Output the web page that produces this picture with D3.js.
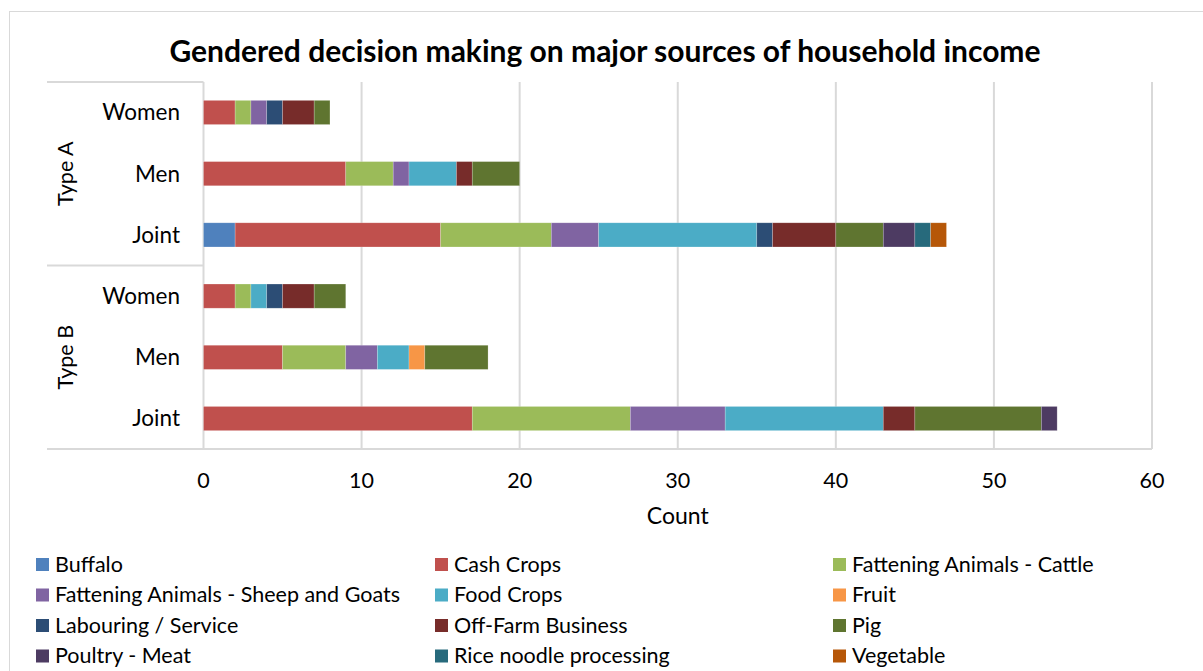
<!DOCTYPE html>
<html>
<head>
<meta charset="utf-8">
<script src="https://cdn.jsdelivr.net/npm/d3@7"></script>
<style>
  body { margin: 0; background: #fff; }
  svg { display: block; font-family: Lato, 'Open Sans', sans-serif; }
</style>
</head>
<body>
<div id="chart"></div>
<script>
// categories (top to bottom)
const groups = ['Type A', 'Type B'];
const roles = ['Women', 'Men', 'Joint'];

const sources = ['Buffalo', 'Cash Crops', 'Fattening Animals - Cattle',
  'Fattening Animals - Sheep and Goats', 'Food Crops', 'Fruit',
  'Labouring / Service', 'Off-Farm Business', 'Pig',
  'Poultry - Meat', 'Rice noodle processing', 'Vegetable'];

const colors = ['#4F81BD', '#C0504D', '#9BBB59', '#8064A2', '#4BACC6', '#F79646',
  '#2C4D75', '#772C2A', '#5F7530', '#4D3B62', '#276A7C', '#B65708'];

// counts per source, in row order: A-Women, A-Men, A-Joint, B-Women, B-Men, B-Joint
const buffalo =      [0, 0, 2, 0, 0, 0];
const cashCrops =    [2, 9, 13, 2, 5, 17];
const cattle =       [1, 3, 7, 1, 4, 10];
const sheepGoats =   [1, 1, 3, 0, 2, 6];
const foodCrops =    [0, 3, 10, 1, 2, 10];
const fruit =        [0, 0, 0, 0, 1, 0];
const labouring =    [1, 0, 1, 1, 0, 0];
const offFarm =      [2, 1, 4, 2, 0, 2];
const pig =          [1, 3, 3, 2, 4, 8];
const poultry =      [0, 0, 2, 0, 0, 1];
const riceNoodle =   [0, 0, 1, 0, 0, 0];
const vegetable =    [0, 0, 1, 0, 0, 0];

const seriesValues = [buffalo, cashCrops, cattle, sheepGoats, foodCrops, fruit,
  labouring, offFarm, pig, poultry, riceNoodle, vegetable];

const xTicks = [0, 10, 20, 30, 40, 50, 60];

const width = 1203, height = 671;
const plot = {left: 203.5, right: 1152, top: 82, bottom: 449};

const rows = [];
groups.forEach((g) => roles.forEach((r) => rows.push({group: g, role: r, key: g + '|' + r})));

const table = rows.map((row, i) => {
  const o = {key: row.key};
  sources.forEach((s, j) => o[s] = seriesValues[j][i]);
  return o;
});

const stacked = d3.stack().keys(sources)(table);

const x = d3.scaleLinear().domain([0, 60]).range([plot.left, plot.right]);
const y = d3.scaleBand().domain(rows.map((r) => r.key))
  .range([plot.top, plot.bottom]).paddingInner(0.605).paddingOuter(0.3);
const color = d3.scaleOrdinal().domain(sources).range(colors);

const svg = d3.select('#chart').append('svg')
  .attr('width', width).attr('height', height);

// chart border
svg.append('rect')
  .attr('x', 9.5).attr('y', 11.5)
  .attr('width', 1220).attr('height', 700)
  .attr('fill', '#fff').attr('stroke', '#d9d9d9');

// title
svg.append('text')
  .attr('x', 605).attr('y', 62)
  .attr('text-anchor', 'middle')
  .attr('font-size', 30).attr('font-weight', 'bold')
  .attr('fill', '#000')
  .text('Gendered decision making on major sources of household income');

// gridlines
svg.append('g')
  .selectAll('line')
  .data(xTicks)
  .join('line')
  .attr('x1', (d) => x(d)).attr('x2', (d) => x(d))
  .attr('y1', plot.top).attr('y2', plot.bottom)
  .attr('stroke', '#d9d9d9').attr('stroke-width', 2);

// category axis lines
const axisG = svg.append('g').attr('stroke', '#d9d9d9').attr('stroke-width', 2);
axisG.append('line').attr('x1', 47).attr('x2', plot.right).attr('y1', plot.bottom).attr('y2', plot.bottom);
const groupBounds = [plot.top, (plot.top + plot.bottom) / 2, plot.bottom];
axisG.selectAll('line.sep')
  .data(groupBounds.slice(0, 2))
  .join('line').attr('class', 'sep')
  .attr('x1', 47).attr('x2', plot.left).attr('y1', (d) => d).attr('y2', (d) => d);

// bars
svg.append('g')
  .selectAll('g')
  .data(stacked)
  .join('g')
  .attr('fill', (d) => color(d.key))
  .selectAll('rect')
  .data((d) => d.filter((v) => v[1] > v[0]))
  .join('rect')
  .attr('x', (d) => x(d[0]))
  .attr('width', (d) => x(d[1]) - x(d[0]))
  .attr('y', (d) => y(d.data.key))
  .attr('height', y.bandwidth())
  .attr('stroke', '#fff').attr('stroke-opacity', 0.35).attr('stroke-width', 0.6);

// x tick labels
svg.append('g')
  .selectAll('text')
  .data(xTicks)
  .join('text')
  .attr('x', (d) => x(d)).attr('y', 488)
  .attr('text-anchor', 'middle')
  .attr('font-size', 21.5).attr('fill', '#000')
  .text((d) => d);

svg.append('text')
  .attr('x', (plot.left + plot.right) / 2).attr('y', 524)
  .attr('text-anchor', 'middle')
  .attr('font-size', 23).attr('fill', '#000')
  .text('Count');

// row labels
svg.append('g')
  .selectAll('text')
  .data(rows)
  .join('text')
  .attr('x', 180).attr('y', (d) => y(d.key) + y.bandwidth() / 2)
  .attr('dy', '0.35em')
  .attr('text-anchor', 'end')
  .attr('font-size', 22.5).attr('fill', '#000')
  .text((d) => d.role);

// group labels
svg.append('g')
  .selectAll('text')
  .data(groups)
  .join('text')
  .attr('transform', (d, i) => {
    const cy = (groupBounds[i] + groupBounds[i + 1]) / 2;
    return `translate(65,${cy}) rotate(-90)`;
  })
  .attr('dy', '0.35em')
  .attr('text-anchor', 'middle')
  .attr('font-size', 21.5).attr('fill', '#000')
  .text((d) => d);

// legend
const legendCols = [36, 435, 833];
const legend = svg.append('g')
  .selectAll('g')
  .data(sources)
  .join('g')
  .attr('transform', (d, i) => `translate(${legendCols[i % 3]},${564 + Math.floor(i / 3) * 30.5})`);

legend.append('rect')
  .attr('x', 0).attr('y', -6)
  .attr('width', 13).attr('height', 13)
  .attr('fill', color);

legend.append('text')
  .attr('x', 19).attr('y', 0)
  .attr('dy', '0.35em')
  .attr('font-size', 21.5).attr('fill', '#000')
  .text((d) => d);
</script>
</body>
</html>
